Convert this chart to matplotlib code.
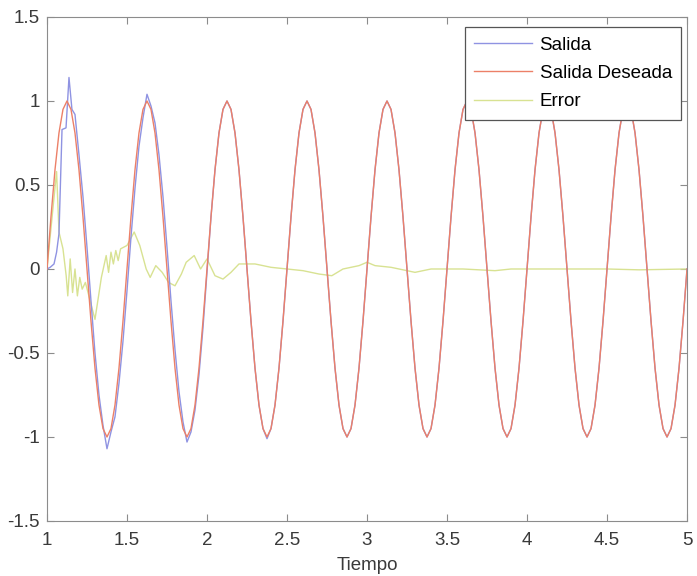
import numpy as np
import matplotlib
matplotlib.use("Agg")
import matplotlib.pyplot as plt

plt.rcParams['font.family'] = ['Liberation Sans', 'DejaVu Sans']

# ---- data ----
tiempo = np.round(np.linspace(1.0, 5.0, 161), 4)

salida_deseada = [
    0.00, 0.31, 0.59, 0.81, 0.95, 1.00, 0.95, 0.81, 0.59, 0.31, 0.00, -0.31, -0.59, -0.81, -0.95, -1.00, -0.95, -0.81, -0.59, -0.31,
    0.00, 0.31, 0.59, 0.81, 0.95, 1.00, 0.95, 0.81, 0.59, 0.31, 0.00, -0.31, -0.59, -0.81, -0.95, -1.00, -0.95, -0.81, -0.59, -0.31,
    0.00, 0.31, 0.59, 0.81, 0.95, 1.00, 0.95, 0.81, 0.59, 0.31, 0.00, -0.31, -0.59, -0.81, -0.95, -1.00, -0.95, -0.81, -0.59, -0.31,
    0.00, 0.31, 0.59, 0.81, 0.95, 1.00, 0.95, 0.81, 0.59, 0.31, 0.00, -0.31, -0.59, -0.81, -0.95, -1.00, -0.95, -0.81, -0.59, -0.31,
    0.00, 0.31, 0.59, 0.81, 0.95, 1.00, 0.95, 0.81, 0.59, 0.31, 0.00, -0.31, -0.59, -0.81, -0.95, -1.00, -0.95, -0.81, -0.59, -0.31,
    0.00, 0.31, 0.59, 0.81, 0.95, 1.00, 0.95, 0.81, 0.59, 0.31, 0.00, -0.31, -0.59, -0.81, -0.95, -1.00, -0.95, -0.81, -0.59, -0.31,
    0.00, 0.31, 0.59, 0.81, 0.95, 1.00, 0.95, 0.81, 0.59, 0.31, 0.00, -0.31, -0.59, -0.81, -0.95, -1.00, -0.95, -0.81, -0.59, -0.31,
    0.00, 0.31, 0.59, 0.81, 0.95, 1.00, 0.95, 0.81, 0.59, 0.31, 0.00, -0.31, -0.59, -0.81, -0.95, -1.00, -0.95, -0.81, -0.59, -0.31,
    0.00,
]

# Salida: fine detail at the start, then same grid as the reference
tiempo_salida_inicio = [1.0, 1.02, 1.044, 1.06, 1.075, 1.094, 1.119, 1.1375, 1.156, 1.175]
salida_inicio = [0.00, 0.01, 0.03, 0.10, 0.21, 0.83, 0.84, 1.14, 0.95, 0.92]
salida_resto = [
    0.68, 0.43, 0.13, -0.19, -0.50, -0.75, -0.93, -1.07, -0.97, -0.88, -0.68, -0.43,
    -0.13, 0.19, 0.48, 0.73, 0.90, 1.04, 0.97, 0.87, 0.68, 0.43, 0.13, -0.19, -0.48, -0.73, -0.91, -1.03, -0.97, -0.84, -0.63, -0.35,
    -0.02, 0.31, 0.59, 0.81, 0.95, 1.00, 0.95, 0.81, 0.59, 0.31, 0.00, -0.31, -0.59, -0.81, -0.95, -1.01, -0.95, -0.81, -0.59, -0.31,
    0.00, 0.31, 0.59, 0.81, 0.95, 1.00, 0.95, 0.81, 0.59, 0.31, 0.00, -0.31, -0.59, -0.81, -0.95, -1.00, -0.95, -0.81, -0.59, -0.31,
    0.00, 0.31, 0.59, 0.81, 0.95, 1.00, 0.95, 0.81, 0.59, 0.31, 0.00, -0.31, -0.59, -0.81, -0.95, -1.00, -0.95, -0.81, -0.59, -0.31,
    0.00, 0.31, 0.59, 0.81, 0.95, 1.00, 0.95, 0.81, 0.59, 0.31, 0.00, -0.31, -0.59, -0.81, -0.95, -1.00, -0.95, -0.81, -0.59, -0.31,
    0.00, 0.31, 0.59, 0.81, 0.95, 1.00, 0.95, 0.81, 0.59, 0.31, 0.00, -0.31, -0.59, -0.81, -0.95, -1.00, -0.95, -0.81, -0.59, -0.31,
    0.00, 0.31, 0.59, 0.81, 0.95, 1.00, 0.95, 0.81, 0.59, 0.31, 0.00, -0.31, -0.59, -0.81, -0.95, -1.00, -0.95, -0.81, -0.59, -0.31,
    0.00,
]

tiempo_error = [
    1.0, 1.06, 1.075, 1.1, 1.12, 1.13, 1.145, 1.16, 1.175, 1.19, 1.205, 1.22, 1.24, 1.30,
    1.34, 1.37, 1.385, 1.40, 1.415, 1.43, 1.445, 1.46, 1.50, 1.545, 1.58, 1.62, 1.645,
    1.68, 1.72, 1.76, 1.80, 1.84, 1.87, 1.92, 1.96, 2.0, 2.05, 2.1, 2.15, 2.2, 2.3, 2.4,
    2.5, 2.6, 2.7, 2.78, 2.85, 2.95, 3.0, 3.05, 3.15, 3.25, 3.3, 3.4, 3.6, 3.8, 3.9,
    4.2, 4.5, 4.7, 5.0,
]
error = [
    0.00, 0.58, 0.22, 0.12, -0.04, -0.16, 0.06, -0.14, 0.00, -0.16, -0.05, -0.12, -0.08, -0.30,
    -0.05, 0.08, -0.02, 0.10, 0.03, 0.11, 0.05, 0.12, 0.14, 0.22, 0.14, 0.00, -0.05,
    0.02, -0.02, -0.08, -0.10, -0.03, 0.04, 0.08, 0.00, 0.06, -0.04, -0.06, -0.02, 0.03, 0.03, 0.01,
    0.00, -0.01, -0.03, -0.04, 0.00, 0.02, 0.04, 0.02, 0.01, -0.01, -0.02, 0.00, 0.00, -0.01, 0.00,
    0.00, 0.00, -0.005, 0.00,
]

x_ticks = [1, 1.5, 2, 2.5, 3, 3.5, 4, 4.5, 5]
x_tick_labels = ['1', '1.5', '2', '2.5', '3', '3.5', '4', '4.5', '5']
y_ticks = [-1.5, -1, -0.5, 0, 0.5, 1, 1.5]
y_tick_labels = ['-1.5', '-1', '-0.5', '0', '0.5', '1', '1.5']

# ---- figure ----
fig = plt.figure(figsize=(6.97, 5.76), dpi=100)
ax = fig.add_axes([0.0674, 0.0955, 0.9183, 0.875])

tiempo_salida = list(tiempo_salida_inicio) + list(tiempo[8:])
salida = list(salida_inicio) + list(salida_resto)

c_salida = '#8f93e2'
c_deseada = '#ec8068'
c_error = '#d8e292'

ax.plot(tiempo_error, error, color=c_error, lw=1.0, label='Error', zorder=2)
ax.plot(tiempo_salida, salida, color=c_salida, lw=1.0, label='Salida', zorder=3)
ax.plot(tiempo, salida_deseada, color=c_deseada, lw=1.0, label='Salida Deseada', zorder=4)

ax.set_xlim(1, 5)
ax.set_ylim(-1.5, 1.5)
ax.set_xticks(x_ticks)
ax.set_xticklabels(x_tick_labels)
ax.set_yticks(y_ticks)
ax.set_yticklabels(y_tick_labels)

axis_gray = '#8c8c8c'
for s in ax.spines.values():
    s.set_color(axis_gray)
    s.set_linewidth(0.8)
ax.tick_params(direction='in', length=5, width=0.8, color=axis_gray,
               top=True, right=True, labelsize=13.5, labelcolor='#3a3a3a')
ax.tick_params(axis='x', pad=8)
ax.tick_params(axis='y', pad=5)

ax.set_xlabel('Tiempo', fontsize=13.5, color='#3a3a3a', labelpad=6)

handles, labels = ax.get_legend_handles_labels()
order = [labels.index('Salida'), labels.index('Salida Deseada'), labels.index('Error')]
leg = ax.legend([handles[i] for i in order], [labels[i] for i in order],
                loc='upper right', bbox_to_anchor=(0.991, 0.98), borderaxespad=0,
                fontsize=13.5, frameon=True, fancybox=False, handlelength=3.1,
                handletextpad=0.4, labelspacing=0.6, borderpad=0.5)
leg.get_frame().set_edgecolor('#555555')
leg.get_frame().set_linewidth(0.9)
leg.get_frame().set_alpha(1.0)

fig.savefig('out.png', dpi=100)
